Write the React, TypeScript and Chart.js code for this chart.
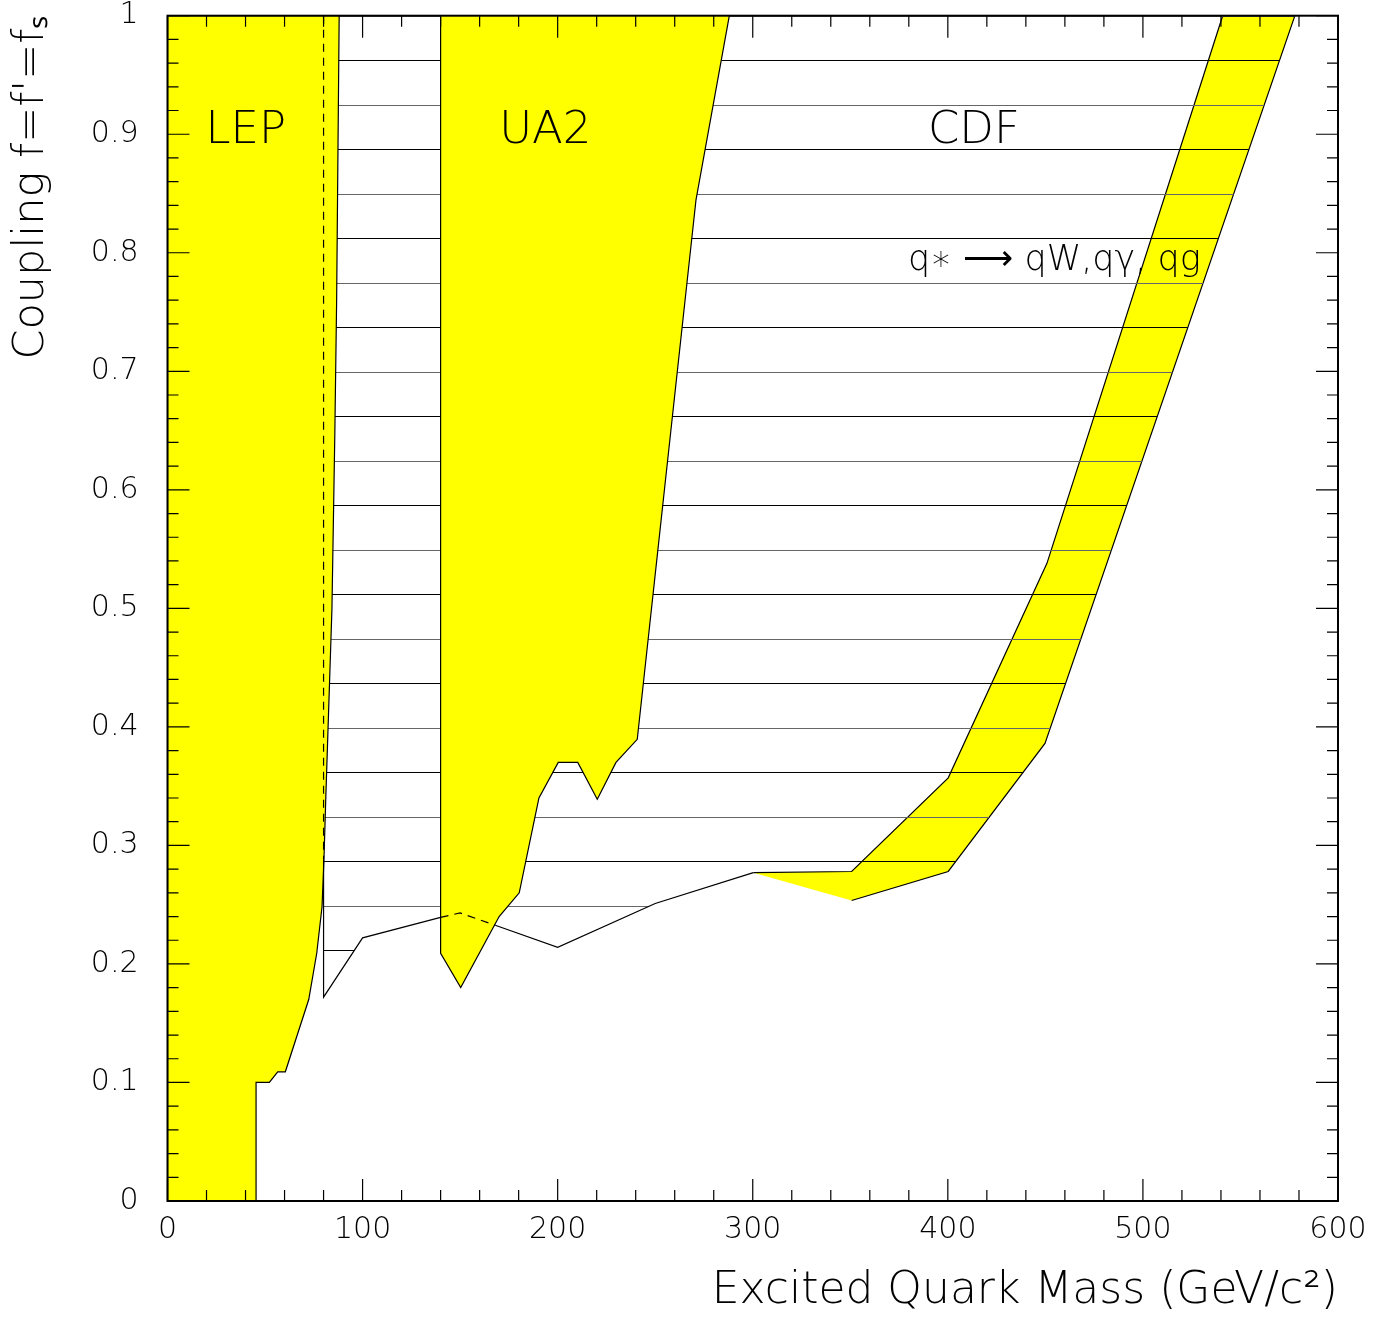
import React, { useEffect, useRef } from 'react';
import { Chart, registerables } from 'chart.js';

Chart.register(...registerables);

// ---- data (GeV, coupling) ----
const lepX = [0, 0, 88.0, 86.7, 85.8, 84.3, 81.1, 80.2, 79.2, 76.5, 72.4, 60.4, 56.5, 52.2, 45.4, 45.4];
const lepY = [0, 1, 1, 0.76, 0.65, 0.5, 0.338, 0.288, 0.248, 0.209, 0.17, 0.109, 0.109, 0.1, 0.1, 0];

const ua2X = [140, 140, 150.3, 170, 180.3, 190.4, 200.3, 210.3, 220.3, 229.9, 240.8, 270.9, 288];
const ua2Y = [1, 0.209, 0.18, 0.24, 0.26, 0.34, 0.37, 0.37, 0.339, 0.37, 0.3895, 0.8445, 1];

const bandX = [300.3, 350.7, 400.2, 450.8, 540.9, 577.9, 449.8, 400.2, 350.7];
const bandY = [0.277, 0.278, 0.357, 0.538, 1, 1, 0.386, 0.278, 0.2535];

const cdfX = [80, 80, 100, 150, 200, 250, 300.3, 350.7, 400.2, 449.8, 577.9];
const cdfY = [1, 0.172, 0.222, 0.243, 0.214, 0.251, 0.277, 0.2535, 0.278, 0.386, 1];

const cdfEdgeX = [80, 80, 80, 100, 140, 150, 168, 200, 250, 300.3];
const cdfEdgeY = [1, 0.288, 0.172, 0.222, 0.2393, 0.243, 0.2326, 0.214, 0.251, 0.277];
const cdfEdgeDashed = [true, false, false, false, true, true, false, false, false];

const xTickValues = [0, 100, 200, 300, 400, 500, 600];
const xTickLabels = ['0', '100', '200', '300', '400', '500', '600'];
const yTickValues = [0, 0.1, 0.2, 0.3, 0.4, 0.5, 0.6, 0.7, 0.8, 0.9, 1];
const yTickLabels = ['0', '0.1', '0.2', '0.3', '0.4', '0.5', '0.6', '0.7', '0.8', '0.9', '1'];

const regionLabels = ['LEP', 'UA2', 'CDF', 'q\u2217 \u27F6 qW,q\u03B3, qg'];
const regionLabelX = [19.5, 170, 389.8, 379.6];
const regionLabelY = [0.893, 0.893, 0.893, 0.7855];
const regionLabelSize = [45, 45, 45, 35];

const FONT = "'DejaVu Sans', sans-serif";
const YELLOW = '#ffff00';

const pts = (xs: number[], ys: number[]) => xs.map((x, i) => ({ x, y: ys[i] }));

// split the CDF boundary into runs of equal line style
function edgeRuns() {
  const runs: { dashed: boolean; data: { x: number; y: number }[] }[] = [];
  for (let i = 0; i < cdfEdgeDashed.length; i++) {
    const d = cdfEdgeDashed[i];
    const last = runs[runs.length - 1];
    if (last && last.dashed === d) {
      last.data.push({ x: cdfEdgeX[i + 1], y: cdfEdgeY[i + 1] });
    } else {
      runs.push({
        dashed: d,
        data: [
          { x: cdfEdgeX[i], y: cdfEdgeY[i] },
          { x: cdfEdgeX[i + 1], y: cdfEdgeY[i + 1] },
        ],
      });
    }
  }
  return runs;
}

const frameTicksPlugin = {
  id: 'frameTicks',
  afterDraw(chart: any) {
    const { ctx, chartArea: a, scales } = chart;
    const xs = scales.x, ys = scales.y;
    ctx.save();
    ctx.strokeStyle = '#000';
    ctx.lineWidth = 1.2;
    ctx.beginPath();
    for (let k = 0; k <= 30; k++) {
      const v = k * 20;
      const len = k % 5 === 0 ? 22 : 11;
      const px = xs.getPixelForValue(v);
      ctx.moveTo(px, a.bottom); ctx.lineTo(px, a.bottom - len);
      ctx.moveTo(px, a.top); ctx.lineTo(px, a.top + len);
    }
    for (let k = 0; k <= 50; k++) {
      const v = k * 0.02;
      const len = k % 5 === 0 ? 22 : 11;
      const py = ys.getPixelForValue(v);
      ctx.moveTo(a.left, py); ctx.lineTo(a.left + len, py);
      ctx.moveTo(a.right, py); ctx.lineTo(a.right - len, py);
    }
    ctx.stroke();
    ctx.lineWidth = 2;
    ctx.strokeRect(a.left, a.top, a.right - a.left, a.bottom - a.top);
    ctx.restore();
  },
};

const labelsPlugin = {
  id: 'regionLabels',
  afterDatasetsDraw(chart: any) {
    const { ctx, scales } = chart;
    ctx.save();
    ctx.fillStyle = '#000';
    ctx.textAlign = 'left';
    ctx.textBaseline = 'alphabetic';
    regionLabels.forEach((t, i) => {
      ctx.font = `200 ${regionLabelSize[i]}px ${FONT}`;
      ctx.fillText(t, scales.x.getPixelForValue(regionLabelX[i]), scales.y.getPixelForValue(regionLabelY[i]));
    });
    ctx.restore();
  },
};

export default function App() {
  const ref = useRef<HTMLCanvasElement | null>(null);
  useEffect(() => {
    const canvas = ref.current;
    if (!canvas) return;
    const ctx = canvas.getContext('2d')!;
    const pc = document.createElement('canvas');
    pc.width = 8;
    pc.height = 89;
    const pctx = pc.getContext('2d')!;
    pctx.fillStyle = '#000';
    pctx.fillRect(0, 60, 8, 1);
    pctx.fillStyle = '#666';
    pctx.fillRect(0, 16, 8, 1);
    const hatch = ctx.createPattern(pc, 'repeat');

    const edgeSets = edgeRuns().map((r, i) => ({
      label: 'CDF boundary ' + i,
      data: r.data,
      showLine: true,
      fill: false,
      borderColor: '#000',
      borderWidth: 1.2,
      borderDash: r.dashed ? [8, 6] : [],
      pointRadius: 0,
      order: 0,
    }));

    const chart = new Chart(canvas, {
      type: 'scatter',
      data: {
        datasets: [
          ...edgeSets,
          {
            label: 'UA2',
            data: pts(ua2X, ua2Y),
            showLine: true,
            fill: 'shape',
            backgroundColor: YELLOW,
            borderColor: '#000',
            borderWidth: 1.2,
            pointRadius: 0,
            order: 1,
          },
          {
            label: 'LEP',
            data: pts(lepX, lepY),
            showLine: true,
            fill: 'shape',
            backgroundColor: YELLOW,
            borderColor: '#000',
            borderWidth: 1.2,
            pointRadius: 0,
            order: 2,
          },
          {
            label: 'CDF',
            data: pts(cdfX, cdfY),
            showLine: true,
            fill: 'shape',
            backgroundColor: hatch as any,
            borderColor: 'rgba(0,0,0,0)',
            borderWidth: 0,
            pointRadius: 0,
            order: 3,
          },
          {
            label: 'CDF qg',
            data: pts(bandX, bandY),
            showLine: true,
            fill: 'shape',
            backgroundColor: YELLOW,
            borderColor: '#000',
            borderWidth: 1.2,
            pointRadius: 0,
            order: 4,
          },
        ],
      },
      options: {
        responsive: false,
        animation: false,
        events: [],
        layout: { padding: { top: 15.7, right: 49, left: 0, bottom: 0 } },
        plugins: { legend: { display: false }, tooltip: { enabled: false } },
        scales: {
          x: {
            type: 'linear',
            min: 0,
            max: 600,
            grid: { display: false, drawTicks: false },
            border: { display: false },
            afterBuildTicks: (s: any) => { s.ticks = xTickValues.map((v) => ({ value: v })); },
            afterFit: (s: any) => { s.height = 117; s.paddingLeft = 0; s.paddingRight = 0; },
            ticks: {
              autoSkip: false,
              maxRotation: 0,
              padding: 14,
              color: '#000',
              font: { family: FONT, size: 30, weight: 200 as any, lineHeight: 1 },
              callback: (_v: any, i: number) => xTickLabels[i],
            },
            title: {
              display: true,
              text: 'Excited Quark Mass (GeV/c\u00B2)',
              align: 'end',
              color: '#000',
              font: { family: FONT, size: 44, weight: 200 as any, lineHeight: 1.2 },
              padding: { top: 0, bottom: 0 },
            },
          },
          y: {
            type: 'linear',
            min: 0,
            max: 1,
            grid: { display: false, drawTicks: false },
            border: { display: false },
            afterBuildTicks: (s: any) => { s.ticks = yTickValues.map((v) => ({ value: v })); },
            afterFit: (s: any) => { s.width = 167.5; s.paddingTop = 0; s.paddingBottom = 0; },
            ticks: {
              autoSkip: false,
              padding: 29,
              color: '#000',
              font: { family: FONT, size: 30, weight: 200 as any, lineHeight: 1 },
              callback: (_v: any, i: number) => yTickLabels[i],
            },
            title: {
              display: true,
              text: "Coupling f=f'=f\u209B",
              align: 'end',
              color: '#000',
              font: { family: FONT, size: 43, weight: 200 as any, lineHeight: 1.2 },
              padding: { top: 6, bottom: 0 },
            },
          },
        },
      },
      plugins: [frameTicksPlugin, labelsPlugin],
    } as any);
    return () => chart.destroy();
  }, []);

  return (
    <canvas
      ref={ref}
      width={1387}
      height={1318}
      style={{ position: 'absolute', left: 0, top: 0, width: 1387, height: 1318 }}
    />
  );
}
